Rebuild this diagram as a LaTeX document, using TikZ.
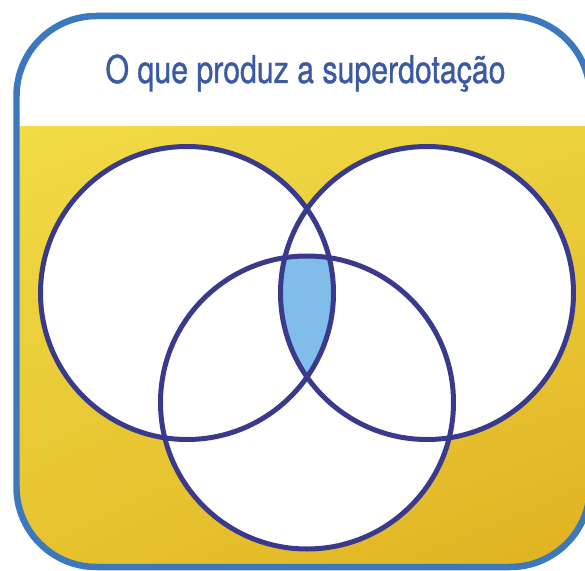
\documentclass[tikz,border=0pt]{standalone}
\usepackage{fontspec}
\setmainfont{TeX Gyre Heros}[FakeStretch=0.79,FakeBold=0.9]
\usepackage{xcolor}
\usepackage{tikz}
\usetikzlibrary{positioning,shadings}

\definecolor{moldura}{HTML}{3B78BE}
\definecolor{titulo}{HTML}{3B5AA2}
\definecolor{contorno}{HTML}{3A3A8C}
\definecolor{lente}{HTML}{80BDEB}
\definecolor{amareloA}{HTML}{F1DC47}
\definecolor{amareloB}{HTML}{EBD03D}
\definecolor{amareloC}{HTML}{E6C22E}
\definecolor{amareloD}{HTML}{E0B021}

\begin{document}
\begin{tikzpicture}[x=0.02cm, y=-0.02cm,
  borda/.style={draw=moldura, line width=0.13cm, rounded corners=1.6cm},
  venn/.style={draw=contorno, line width=0.1cm},
  rotulo/.style={text=titulo, font=\fontsize{21.8}{24}\selectfont, anchor=base, inner sep=0pt}]
\useasboundingbox (0,0) rectangle (585,571);
\coordinate (esq) at (187,293);
\coordinate (dir) at (427,293);
\coordinate (baixo) at (307,402.5);
\fill[white, rounded corners=1.6cm] (16.5,16) rectangle (590,567);
\begin{scope}
\clip[rounded corners=1.6cm] (16.5,16) rectangle (590,567);
\shade[upper left=amareloA, upper right=amareloB, lower left=amareloC, lower right=amareloD] (0,127) rectangle (600,580);
\end{scope}
\fill[white] (esq) circle[radius=146.5];
\fill[white] (dir) circle[radius=146.5];
\fill[white] (baixo) circle[radius=146.5];
\begin{scope}
\clip (esq) circle[radius=146.5];
\clip (dir) circle[radius=146.5];
\fill[lente] (baixo) circle[radius=146.5];
\end{scope}
\draw[venn] (esq) circle[radius=146.5];
\draw[venn] (dir) circle[radius=146.5];
\draw[venn] (baixo) circle[radius=146.5];
\draw[borda] (16.5,16) rectangle (590,567);
\node[rotulo] (titulo) at (305.5,83) {O que produz a superdotação};
\end{tikzpicture}
\end{document}
